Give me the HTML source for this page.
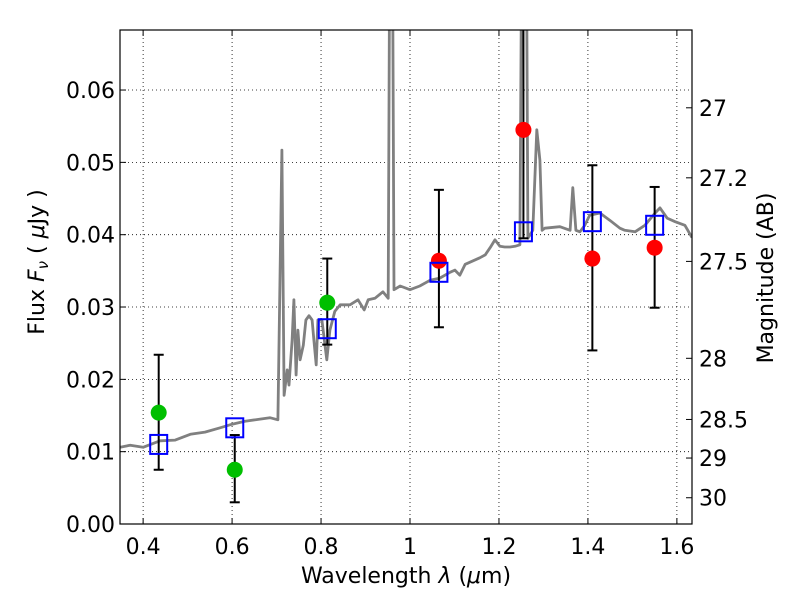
<!DOCTYPE html>
<html><head><meta charset="utf-8"><style>
body{margin:0;background:#fff;}
svg text{font-family:"DejaVu Sans","Liberation Sans",sans-serif;font-size:22px;fill:#000;}
</style></head><body>
<svg id="chart" width="800" height="600" xmlns="http://www.w3.org/2000/svg">
<g id="grid"></g>
<g id="spec"></g>
<g id="marks"></g>
<rect x="120" y="30" width="572" height="494" fill="none" stroke="#000" stroke-width="1.2"/>
<g id="ticks"></g>
<text x="406" y="583" text-anchor="middle">Wavelength  <tspan font-style="italic">λ</tspan> (<tspan font-style="italic">μ</tspan>m)</text>
<text transform="translate(44,262) rotate(-90)" text-anchor="middle">Flux  <tspan font-style="italic">F</tspan><tspan font-style="italic" font-size="15" dy="4">ν</tspan><tspan dy="-4">  (  </tspan><tspan font-style="italic">μ</tspan>Jy )</text>
<text transform="translate(773,278) rotate(-90)" text-anchor="middle">Magnitude (AB)</text>
</svg>
<script>
const specLam=[0.348,0.371,0.400,0.438,0.472,0.506,0.539,0.573,0.600,0.629,0.663,0.685,0.703,0.712,0.717,0.724,0.728,0.735,0.739,0.744,0.748,0.753,0.760,0.766,0.773,0.780,0.784,0.789,0.793,0.802,0.809,0.813,0.820,0.831,0.843,0.865,0.883,0.897,0.906,0.921,0.939,0.951,0.955,0.960,0.964,0.978,1.000,1.022,1.045,1.067,1.090,1.101,1.112,1.124,1.135,1.157,1.169,1.180,1.191,1.202,1.213,1.225,1.236,1.247,1.252,1.261,1.265,1.276,1.285,1.292,1.297,1.303,1.337,1.360,1.366,1.373,1.382,1.393,1.404,1.427,1.449,1.472,1.483,1.506,1.528,1.551,1.562,1.578,1.596,1.618,1.634];
const specFlux=[0.0106,0.0109,0.0106,0.0115,0.0116,0.0124,0.0127,0.0133,0.0138,0.0142,0.0145,0.0147,0.0144,0.0517,0.0178,0.0213,0.0192,0.0254,0.0310,0.0206,0.0268,0.0227,0.0247,0.0282,0.0288,0.0282,0.0254,0.0220,0.0282,0.0282,0.0247,0.0227,0.0268,0.0294,0.0303,0.0303,0.0310,0.0296,0.0310,0.0312,0.0321,0.0312,0.09,0.09,0.0324,0.0329,0.0324,0.0329,0.0337,0.0340,0.0348,0.0351,0.0344,0.0359,0.0362,0.0368,0.0372,0.0382,0.0393,0.0384,0.0383,0.0383,0.0384,0.0386,0.09,0.09,0.0395,0.0406,0.0545,0.0503,0.0406,0.0409,0.0411,0.0406,0.0465,0.0406,0.0404,0.0413,0.0427,0.0430,0.0420,0.0409,0.0406,0.0404,0.0413,0.0430,0.0437,0.0423,0.0418,0.0413,0.0396];
const photLam=[0.435,0.606,0.814,1.065,1.255,1.41,1.55];
const photFlux=[0.0154,0.0075,0.0306,0.0364,0.0545,0.0367,0.0382];
const errHi=[0.0234,0.0123,0.0367,0.0462,0.09,0.0496,0.0466];
const errLo=[0.0075,0.003,0.0248,0.0272,0.0395,0.024,0.0299];
const photColor=['#00bf00','#00bf00','#00bf00','#ff0000','#ff0000','#ff0000','#ff0000'];
const modelFlux=[0.0110,0.0133,0.0270,0.0348,0.0404,0.0418,0.0413];
const xTicks=[0.4,0.6,0.8,1.0,1.2,1.4,1.6];
const xTickLabels=['0.4','0.6','0.8','1','1.2','1.4','1.6'];
const yTicks=[0,0.01,0.02,0.03,0.04,0.05,0.06];
const yTickLabels=['0.00','0.01','0.02','0.03','0.04','0.05','0.06'];
const magTicks=[27,27.2,27.5,28,28.5,29,30];
const magTickLabels=['27','27.2','27.5','28','28.5','29','30'];

const X0=120,X1=692,Y0=524,Y1=30,LMIN=0.348,LMAX=1.634,FMIN=0,FMAX=0.0683;
const xs=l=>X0+(l-LMIN)/(LMAX-LMIN)*(X1-X0);
const ys=f=>Y0-(f-FMIN)/(FMAX-FMIN)*(Y0-Y1);
const NS='http://www.w3.org/2000/svg';
function mk(tag,attrs,parent){const e=document.createElementNS(NS,tag);for(const k in attrs)e.setAttribute(k,attrs[k]);document.getElementById(parent).appendChild(e);return e;}

xTicks.forEach((t,i)=>{const x=xs(t);
 const g=mk('line',{x1:x,x2:x,y1:Y1,y2:Y0,stroke:'#000','stroke-width':0.8,'stroke-dasharray':'1,3'},'grid');
 
 
 mk('line',{x1:x,x2:x,y1:Y0,y2:Y0-6,stroke:'#000'},'ticks');
 mk('line',{x1:x,x2:x,y1:Y1,y2:Y1+6,stroke:'#000'},'ticks');
 const tx=mk('text',{x:x,y:Y0+30,'text-anchor':'middle'},'ticks');tx.textContent=xTickLabels[i];
 
 });
yTicks.forEach((t,i)=>{const y=ys(t);
 const g=mk('line',{x1:X0,x2:X1,y1:y,y2:y,stroke:'#000','stroke-width':0.8,'stroke-dasharray':'1,3'},'grid');
 
 
 mk('line',{x1:X0,x2:X0+6,y1:y,y2:y,stroke:'#000'},'ticks');
 const tx=mk('text',{x:X0-5,y:y+8,'text-anchor':'end'},'ticks');tx.textContent=yTickLabels[i];
 
 });
magTicks.forEach((m,i)=>{const y=ys(Math.pow(10,(23.9-m)/2.5));
 mk('line',{x1:X1,x2:X1-6,y1:y,y2:y,stroke:'#000'},'ticks');
 const tx=mk('text',{x:X1+7,y:y+8},'ticks');tx.textContent=magTickLabels[i];
 
 });

const cp=mk('clipPath',{id:'clip'},'spec');mk('rect',{x:X0,y:Y1,width:X1-X0,height:Y0-Y1},'clip');
const d=specLam.map((l,i)=>(i?'L':'M')+xs(l).toFixed(1)+','+ys(specFlux[i]).toFixed(1)).join(' ');
const p=mk('path',{d:d,fill:'none',stroke:'#808080','stroke-width':2.8,'stroke-linejoin':'round','clip-path':'url(#clip)'},'spec');



photLam.forEach((l,i)=>{const x=xs(l);
 const g=mk('g',{'clip-path':'url(#clip)'},'marks');g.id='pm'+i;
 
 
 mk('line',{x1:x,x2:x,y1:ys(errHi[i]),y2:ys(errLo[i]),stroke:'#000','stroke-width':2},g.id);
 mk('line',{x1:x-5,x2:x+5,y1:ys(errHi[i]),y2:ys(errHi[i]),stroke:'#000','stroke-width':2},g.id);
 mk('line',{x1:x-5,x2:x+5,y1:ys(errLo[i]),y2:ys(errLo[i]),stroke:'#000','stroke-width':2},g.id);
 mk('circle',{cx:x,cy:ys(photFlux[i]),r:8,fill:photColor[i]},g.id);
 const sq=mk('rect',{x:x-8.5,y:ys(modelFlux[i])-9.5,width:17,height:19,fill:'none',stroke:'#0000ff','stroke-width':2},g.id);
 
 });
</script>
</body></html>
